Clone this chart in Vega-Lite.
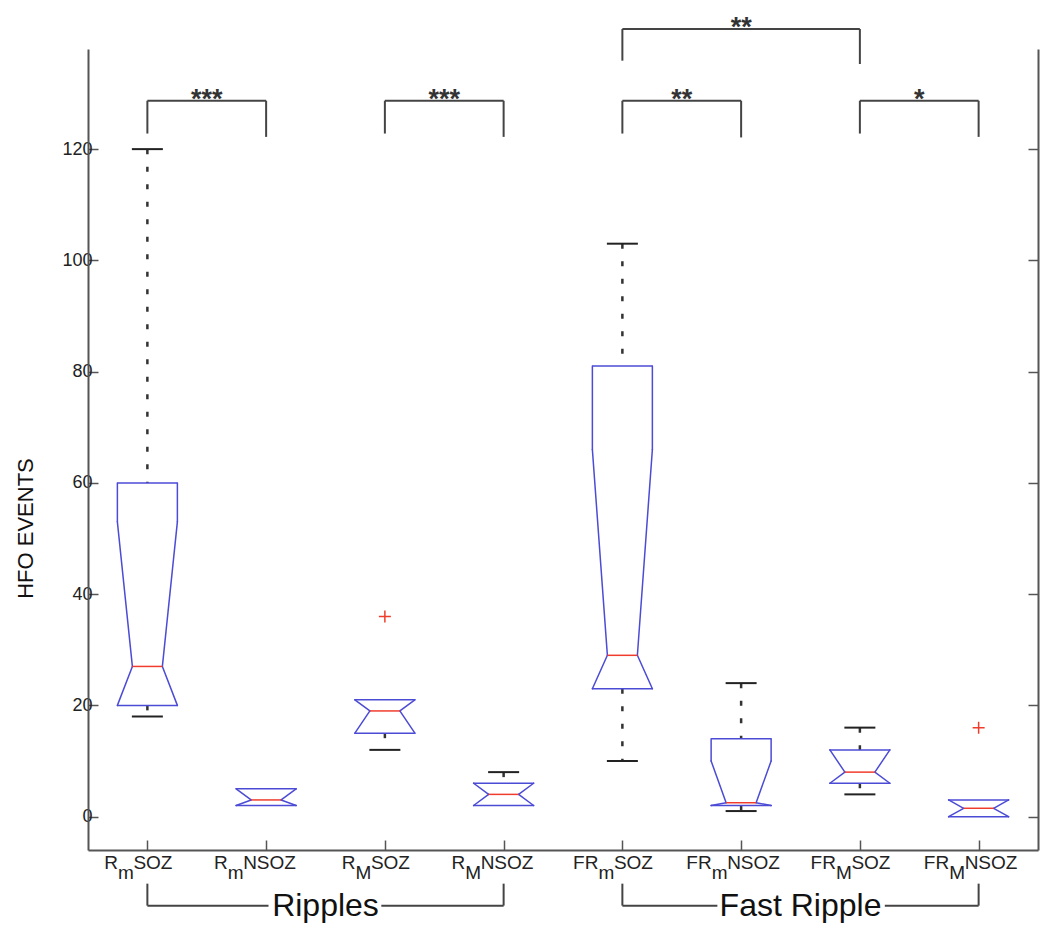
{
  "$schema": "https://vega.github.io/schema/vega-lite/v6.json",
  "width": 950,
  "height": 801,
  "autosize": {"type": "none"},
  "padding": {"left": 88, "top": 49, "right": 12, "bottom": 83},
  "background": "white",
  "config": {"view": {"stroke": null}, "font": "Liberation Sans", "text": {"font": "Liberation Sans"}},
  "datasets": {
    "boxes": [
      {"g": 1, "name": "RmSOZ", "wlo": 18, "q1": 20, "nlo": 20, "med": 27, "nhi": 53, "q3": 60, "whi": 120},
      {"g": 2, "name": "RmNSOZ", "wlo": 2, "q1": 2, "nlo": 2, "med": 3, "nhi": 5, "q3": 5, "whi": 5},
      {"g": 3, "name": "RMSOZ", "wlo": 12, "q1": 15, "nlo": 15, "med": 19, "nhi": 21, "q3": 21, "whi": 21},
      {"g": 4, "name": "RMNSOZ", "wlo": 2, "q1": 2, "nlo": 2, "med": 4, "nhi": 6, "q3": 6, "whi": 8},
      {"g": 5, "name": "FRmSOZ", "wlo": 10, "q1": 23, "nlo": 23, "med": 29, "nhi": 66, "q3": 81, "whi": 103},
      {"g": 6, "name": "FRmNSOZ", "wlo": 1, "q1": 2, "nlo": 2, "med": 2.5, "nhi": 10, "q3": 14, "whi": 24},
      {"g": 7, "name": "FRMSOZ", "wlo": 4, "q1": 6, "nlo": 6, "med": 8, "nhi": 12, "q3": 12, "whi": 16},
      {"g": 8, "name": "FRMNSOZ", "wlo": 0, "q1": 0, "nlo": 0, "med": 1.5, "nhi": 3, "q3": 3, "whi": 3}
    ],
    "outliers": [
      {"g": 3, "v": 36},
      {"g": 8, "v": 16}
    ],
    "sig": [
      {"a": 1, "b": 2, "mid": 1.5, "top": 128.7, "la": 122.8, "lb": 122.2, "stars": "***"},
      {"a": 3, "b": 4, "mid": 3.5, "top": 128.7, "la": 122.8, "lb": 122.2, "stars": "***"},
      {"a": 5, "b": 6, "mid": 5.5, "top": 128.7, "la": 122.8, "lb": 122.1, "stars": "**"},
      {"a": 7, "b": 8, "mid": 7.5, "top": 128.7, "la": 122.8, "lb": 122.2, "stars": "*"},
      {"a": 5, "b": 7, "mid": 6, "top": 141.6, "la": 135.9, "lb": 135.3, "stars": "**"}
    ],
    "groups": [
      {"label": "Ripples", "a": 1, "b": 4, "mid": 2.5, "ga": 2.02, "gb": 2.97, "leg": -12.05, "base": -16},
      {"label": "Fast Ripple", "a": 5, "b": 8, "mid": 6.5, "ga": 5.8, "gb": 7.21, "leg": -12.05, "base": -16}
    ],
    "xlabels": [
      {"g": 1, "pre": "R", "sub": "m", "suf": "SOZ"},
      {"g": 2, "pre": "R", "sub": "m", "suf": "NSOZ"},
      {"g": 3, "pre": "R", "sub": "M", "suf": "SOZ"},
      {"g": 4, "pre": "R", "sub": "M", "suf": "NSOZ"},
      {"g": 5, "pre": "FR", "sub": "m", "suf": "SOZ"},
      {"g": 6, "pre": "FR", "sub": "m", "suf": "NSOZ"},
      {"g": 7, "pre": "FR", "sub": "M", "suf": "SOZ"},
      {"g": 8, "pre": "FR", "sub": "M", "suf": "NSOZ"}
    ]
  },
  "resolve": {"axis": {"x": "independent", "y": "independent"}},
  "layer": [
    {
      "data": {"name": "boxes"},
      "mark": {"type": "rule", "color": "#333333", "strokeWidth": 2.5, "strokeDash": [5, 12.5]},
      "encoding": {
        "x": {"field": "g", "type": "quantitative", "scale": {"type": "linear", "domain": [0.5, 8.5], "nice": false, "zero": false}, "axis": null},
        "y": {"field": "whi", "type": "quantitative", "scale": {"type": "linear", "domain": [-6, 138], "nice": false, "zero": false}, "axis": null},
        "y2": {"field": "q3"}
      }
    },
    {
      "data": {"name": "boxes"},
      "mark": {"type": "rule", "color": "#333333", "strokeWidth": 2.5, "strokeDash": [5, 12.5]},
      "encoding": {
        "x": {"field": "g", "type": "quantitative", "scale": {"type": "linear", "domain": [0.5, 8.5], "nice": false, "zero": false}, "axis": null},
        "y": {"field": "q1", "type": "quantitative", "scale": {"type": "linear", "domain": [-6, 138], "nice": false, "zero": false}, "axis": null},
        "y2": {"field": "wlo"}
      }
    },
    {
      "data": {"name": "boxes"},
      "transform": [{"filter": "datum.whi > datum.q3"}],
      "mark": {"type": "tick", "orient": "horizontal", "size": 31, "thickness": 2, "color": "#222222", "opacity": 1},
      "encoding": {
        "x": {"field": "g", "type": "quantitative", "scale": {"type": "linear", "domain": [0.5, 8.5], "nice": false, "zero": false},
          "axis": {"orient": "bottom", "values": [1, 2, 3, 4, 5, 6, 7, 8], "labels": false, "title": null, "grid": false, "tickSize": -10, "tickWidth": 1.5, "tickColor": "#555555", "domainColor": "#555555", "domainWidth": 2}},
        "y": {"field": "whi", "type": "quantitative", "scale": {"type": "linear", "domain": [-6, 138], "nice": false, "zero": false},
          "axis": {"orient": "left", "values": [0, 20, 40, 60, 80, 100, 120], "grid": false, "tickSize": -10, "tickWidth": 1.5, "tickColor": "#555555", "domainColor": "#555555", "domainWidth": 2,
            "labelFontSize": 18, "labelColor": "#222222", "labelFont": "Liberation Sans", "labelPadding": 6,
            "title": "HFO EVENTS", "titleFont": "Liberation Sans", "titleFontSize": 22, "titleFontWeight": "normal", "titleColor": "#111111",
            "titleAngle": 270, "titleX": -63, "titleY": 479, "titleAlign": "center", "titleBaseline": "middle"}}
      }
    },
    {
      "data": {"name": "boxes"},
      "transform": [{"filter": "datum.wlo < datum.q1"}],
      "mark": {"type": "tick", "orient": "horizontal", "size": 31, "thickness": 2, "color": "#222222", "opacity": 1},
      "encoding": {
        "x": {"field": "g", "type": "quantitative", "scale": {"type": "linear", "domain": [0.5, 8.5], "nice": false, "zero": false}, "axis": null},
        "y": {"field": "wlo", "type": "quantitative", "scale": {"type": "linear", "domain": [-6, 138], "nice": false, "zero": false},
          "axis": {"orient": "right", "values": [0, 20, 40, 60, 80, 100, 120], "labels": false, "title": null, "grid": false, "tickSize": -10, "tickWidth": 1.5, "tickColor": "#555555", "domainColor": "#555555", "domainWidth": 2}}
      }
    },
    {
      "data": {"name": "boxes"},
      "mark": {"type": "rule", "color": "#4b4bd6", "strokeWidth": 1.5, "strokeCap": "round", "xOffset": -30},
      "encoding": {
        "x": {"field": "g", "type": "quantitative", "scale": {"type": "linear", "domain": [0.5, 8.5], "nice": false, "zero": false}, "axis": null},
        "y": {"field": "q1", "type": "quantitative", "scale": {"type": "linear", "domain": [-6, 138], "nice": false, "zero": false}, "axis": null},
        "y2": {"field": "nlo"}
      }
    },
    {
      "data": {"name": "boxes"},
      "mark": {"type": "rule", "color": "#4b4bd6", "strokeWidth": 1.5, "strokeCap": "round", "xOffset": -30, "x2Offset": -15},
      "encoding": {
        "x": {"field": "g", "type": "quantitative", "scale": {"type": "linear", "domain": [0.5, 8.5], "nice": false, "zero": false}, "axis": null},
        "x2": {"field": "g"},
        "y": {"field": "nlo", "type": "quantitative", "scale": {"type": "linear", "domain": [-6, 138], "nice": false, "zero": false}, "axis": null},
        "y2": {"field": "med"}
      }
    },
    {
      "data": {"name": "boxes"},
      "mark": {"type": "rule", "color": "#4b4bd6", "strokeWidth": 1.5, "strokeCap": "round", "xOffset": -15, "x2Offset": -30},
      "encoding": {
        "x": {"field": "g", "type": "quantitative", "scale": {"type": "linear", "domain": [0.5, 8.5], "nice": false, "zero": false}, "axis": null},
        "x2": {"field": "g"},
        "y": {"field": "med", "type": "quantitative", "scale": {"type": "linear", "domain": [-6, 138], "nice": false, "zero": false}, "axis": null},
        "y2": {"field": "nhi"}
      }
    },
    {
      "data": {"name": "boxes"},
      "mark": {"type": "rule", "color": "#4b4bd6", "strokeWidth": 1.5, "strokeCap": "round", "xOffset": -30},
      "encoding": {
        "x": {"field": "g", "type": "quantitative", "scale": {"type": "linear", "domain": [0.5, 8.5], "nice": false, "zero": false}, "axis": null},
        "y": {"field": "nhi", "type": "quantitative", "scale": {"type": "linear", "domain": [-6, 138], "nice": false, "zero": false}, "axis": null},
        "y2": {"field": "q3"}
      }
    },
    {
      "data": {"name": "boxes"},
      "mark": {"type": "rule", "color": "#4b4bd6", "strokeWidth": 1.5, "strokeCap": "round", "xOffset": 30},
      "encoding": {
        "x": {"field": "g", "type": "quantitative", "scale": {"type": "linear", "domain": [0.5, 8.5], "nice": false, "zero": false}, "axis": null},
        "y": {"field": "q1", "type": "quantitative", "scale": {"type": "linear", "domain": [-6, 138], "nice": false, "zero": false}, "axis": null},
        "y2": {"field": "nlo"}
      }
    },
    {
      "data": {"name": "boxes"},
      "mark": {"type": "rule", "color": "#4b4bd6", "strokeWidth": 1.5, "strokeCap": "round", "xOffset": 30, "x2Offset": 15},
      "encoding": {
        "x": {"field": "g", "type": "quantitative", "scale": {"type": "linear", "domain": [0.5, 8.5], "nice": false, "zero": false}, "axis": null},
        "x2": {"field": "g"},
        "y": {"field": "nlo", "type": "quantitative", "scale": {"type": "linear", "domain": [-6, 138], "nice": false, "zero": false}, "axis": null},
        "y2": {"field": "med"}
      }
    },
    {
      "data": {"name": "boxes"},
      "mark": {"type": "rule", "color": "#4b4bd6", "strokeWidth": 1.5, "strokeCap": "round", "xOffset": 15, "x2Offset": 30},
      "encoding": {
        "x": {"field": "g", "type": "quantitative", "scale": {"type": "linear", "domain": [0.5, 8.5], "nice": false, "zero": false}, "axis": null},
        "x2": {"field": "g"},
        "y": {"field": "med", "type": "quantitative", "scale": {"type": "linear", "domain": [-6, 138], "nice": false, "zero": false}, "axis": null},
        "y2": {"field": "nhi"}
      }
    },
    {
      "data": {"name": "boxes"},
      "mark": {"type": "rule", "color": "#4b4bd6", "strokeWidth": 1.5, "strokeCap": "round", "xOffset": 30},
      "encoding": {
        "x": {"field": "g", "type": "quantitative", "scale": {"type": "linear", "domain": [0.5, 8.5], "nice": false, "zero": false}, "axis": null},
        "y": {"field": "nhi", "type": "quantitative", "scale": {"type": "linear", "domain": [-6, 138], "nice": false, "zero": false}, "axis": null},
        "y2": {"field": "q3"}
      }
    },
    {
      "data": {"name": "boxes"},
      "mark": {"type": "tick", "orient": "horizontal", "size": 60, "thickness": 1.5, "color": "#4b4bd6", "opacity": 1},
      "encoding": {
        "x": {"field": "g", "type": "quantitative", "scale": {"type": "linear", "domain": [0.5, 8.5], "nice": false, "zero": false}, "axis": null},
        "y": {"field": "q3", "type": "quantitative", "scale": {"type": "linear", "domain": [-6, 138], "nice": false, "zero": false}, "axis": null}
      }
    },
    {
      "data": {"name": "boxes"},
      "mark": {"type": "tick", "orient": "horizontal", "size": 60, "thickness": 1.5, "color": "#4b4bd6", "opacity": 1},
      "encoding": {
        "x": {"field": "g", "type": "quantitative", "scale": {"type": "linear", "domain": [0.5, 8.5], "nice": false, "zero": false}, "axis": null},
        "y": {"field": "q1", "type": "quantitative", "scale": {"type": "linear", "domain": [-6, 138], "nice": false, "zero": false}, "axis": null}
      }
    },
    {
      "data": {"name": "boxes"},
      "mark": {"type": "tick", "orient": "horizontal", "size": 30, "thickness": 1.5, "color": "#f03c2d", "opacity": 1},
      "encoding": {
        "x": {"field": "g", "type": "quantitative", "scale": {"type": "linear", "domain": [0.5, 8.5], "nice": false, "zero": false}, "axis": null},
        "y": {"field": "med", "type": "quantitative", "scale": {"type": "linear", "domain": [-6, 138], "nice": false, "zero": false}, "axis": null}
      }
    },
    {
      "data": {"name": "outliers"},
      "mark": {"type": "point", "shape": "M-1,0H1M0,-1V1", "size": 144, "filled": false, "color": "#f03c2d", "strokeWidth": 1.5, "opacity": 1},
      "encoding": {
        "x": {"field": "g", "type": "quantitative", "scale": {"type": "linear", "domain": [0.5, 8.5], "nice": false, "zero": false}, "axis": null},
        "y": {"field": "v", "type": "quantitative", "scale": {"type": "linear", "domain": [-6, 138], "nice": false, "zero": false}, "axis": null}
      }
    },
    {
      "data": {"name": "sig"},
      "mark": {"type": "rule", "color": "#444444", "strokeWidth": 2},
      "encoding": {
        "x": {"field": "a", "type": "quantitative", "scale": {"type": "linear", "domain": [0.5, 8.5], "nice": false, "zero": false}, "axis": null},
        "x2": {"field": "b"},
        "y": {"field": "top", "type": "quantitative", "scale": {"type": "linear", "domain": [-6, 138], "nice": false, "zero": false}, "axis": null}
      }
    },
    {
      "data": {"name": "sig"},
      "mark": {"type": "rule", "color": "#444444", "strokeWidth": 2},
      "encoding": {
        "x": {"field": "a", "type": "quantitative", "scale": {"type": "linear", "domain": [0.5, 8.5], "nice": false, "zero": false}, "axis": null},
        "y": {"field": "la", "type": "quantitative", "scale": {"type": "linear", "domain": [-6, 138], "nice": false, "zero": false}, "axis": null},
        "y2": {"field": "top"}
      }
    },
    {
      "data": {"name": "sig"},
      "mark": {"type": "rule", "color": "#444444", "strokeWidth": 2},
      "encoding": {
        "x": {"field": "b", "type": "quantitative", "scale": {"type": "linear", "domain": [0.5, 8.5], "nice": false, "zero": false}, "axis": null},
        "y": {"field": "lb", "type": "quantitative", "scale": {"type": "linear", "domain": [-6, 138], "nice": false, "zero": false}, "axis": null},
        "y2": {"field": "top"}
      }
    },
    {
      "data": {"name": "sig"},
      "mark": {"type": "text", "fontSize": 27, "fontWeight": "bold", "color": "#333333", "align": "center", "baseline": "alphabetic", "dy": 7},
      "encoding": {
        "x": {"field": "mid", "type": "quantitative", "scale": {"type": "linear", "domain": [0.5, 8.5], "nice": false, "zero": false}, "axis": null},
        "y": {"field": "top", "type": "quantitative", "scale": {"type": "linear", "domain": [-6, 138], "nice": false, "zero": false}, "axis": null},
        "text": {"field": "stars"}
      }
    },
    {
      "data": {"name": "groups"},
      "mark": {"type": "rule", "color": "#444444", "strokeWidth": 2},
      "encoding": {
        "x": {"field": "a", "type": "quantitative", "scale": {"type": "linear", "domain": [0.5, 8.5], "nice": false, "zero": false}, "axis": null},
        "y": {"field": "leg", "type": "quantitative", "scale": {"type": "linear", "domain": [-6, 138], "nice": false, "zero": false}, "axis": null},
        "y2": {"field": "base"}
      }
    },
    {
      "data": {"name": "groups"},
      "mark": {"type": "rule", "color": "#444444", "strokeWidth": 2},
      "encoding": {
        "x": {"field": "b", "type": "quantitative", "scale": {"type": "linear", "domain": [0.5, 8.5], "nice": false, "zero": false}, "axis": null},
        "y": {"field": "leg", "type": "quantitative", "scale": {"type": "linear", "domain": [-6, 138], "nice": false, "zero": false}, "axis": null},
        "y2": {"field": "base"}
      }
    },
    {
      "data": {"name": "groups"},
      "mark": {"type": "rule", "color": "#444444", "strokeWidth": 2},
      "encoding": {
        "x": {"field": "a", "type": "quantitative", "scale": {"type": "linear", "domain": [0.5, 8.5], "nice": false, "zero": false}, "axis": null},
        "x2": {"field": "ga"},
        "y": {"field": "base", "type": "quantitative", "scale": {"type": "linear", "domain": [-6, 138], "nice": false, "zero": false}, "axis": null}
      }
    },
    {
      "data": {"name": "groups"},
      "mark": {"type": "rule", "color": "#444444", "strokeWidth": 2},
      "encoding": {
        "x": {"field": "gb", "type": "quantitative", "scale": {"type": "linear", "domain": [0.5, 8.5], "nice": false, "zero": false}, "axis": null},
        "x2": {"field": "b"},
        "y": {"field": "base", "type": "quantitative", "scale": {"type": "linear", "domain": [-6, 138], "nice": false, "zero": false}, "axis": null}
      }
    },
    {
      "data": {"name": "groups"},
      "mark": {"type": "text", "fontSize": 32, "color": "#111111", "align": "center", "baseline": "middle"},
      "encoding": {
        "x": {"field": "mid", "type": "quantitative", "scale": {"type": "linear", "domain": [0.5, 8.5], "nice": false, "zero": false}, "axis": null},
        "y": {"field": "base", "type": "quantitative", "scale": {"type": "linear", "domain": [-6, 138], "nice": false, "zero": false}, "axis": null},
        "text": {"field": "label"}
      }
    },
    {
      "data": {"name": "xlabels"},
      "transform": [{"filter": {"field": "g", "oneOf": [1, 3, 6, 8]}}],
      "mark": {"type": "text", "fontSize": 19, "color": "#222222", "align": "right", "baseline": "alphabetic", "dx": -29.5},
      "encoding": {
        "x": {"field": "g", "type": "quantitative", "scale": {"type": "linear", "domain": [0.5, 8.5], "nice": false, "zero": false}, "axis": null},
        "y": {"datum": -9.35, "type": "quantitative", "scale": {"type": "linear", "domain": [-6, 138], "nice": false, "zero": false}, "axis": null},
        "text": {"field": "pre"}
      }
    },
    {
      "data": {"name": "xlabels"},
      "transform": [{"filter": {"field": "g", "oneOf": [1, 3, 6, 8]}}],
      "mark": {"type": "text", "fontSize": 19, "color": "#222222", "align": "left", "baseline": "alphabetic", "dx": -29.5, "dy": 10},
      "encoding": {
        "x": {"field": "g", "type": "quantitative", "scale": {"type": "linear", "domain": [0.5, 8.5], "nice": false, "zero": false}, "axis": null},
        "y": {"datum": -9.35, "type": "quantitative", "scale": {"type": "linear", "domain": [-6, 138], "nice": false, "zero": false}, "axis": null},
        "text": {"field": "sub"}
      }
    },
    {
      "data": {"name": "xlabels"},
      "transform": [{"filter": {"field": "g", "oneOf": [1, 3, 6, 8]}}],
      "mark": {"type": "text", "fontSize": 19, "color": "#222222", "align": "left", "baseline": "alphabetic", "dx": -14},
      "encoding": {
        "x": {"field": "g", "type": "quantitative", "scale": {"type": "linear", "domain": [0.5, 8.5], "nice": false, "zero": false}, "axis": null},
        "y": {"datum": -9.35, "type": "quantitative", "scale": {"type": "linear", "domain": [-6, 138], "nice": false, "zero": false}, "axis": null},
        "text": {"field": "suf"}
      }
    },
    {
      "data": {"name": "xlabels"},
      "transform": [{"filter": {"field": "g", "oneOf": [2, 4]}}],
      "mark": {"type": "text", "fontSize": 19, "color": "#222222", "align": "right", "baseline": "alphabetic", "dx": -38.5},
      "encoding": {
        "x": {"field": "g", "type": "quantitative", "scale": {"type": "linear", "domain": [0.5, 8.5], "nice": false, "zero": false}, "axis": null},
        "y": {"datum": -9.35, "type": "quantitative", "scale": {"type": "linear", "domain": [-6, 138], "nice": false, "zero": false}, "axis": null},
        "text": {"field": "pre"}
      }
    },
    {
      "data": {"name": "xlabels"},
      "transform": [{"filter": {"field": "g", "oneOf": [2, 4]}}],
      "mark": {"type": "text", "fontSize": 19, "color": "#222222", "align": "left", "baseline": "alphabetic", "dx": -38.5, "dy": 10},
      "encoding": {
        "x": {"field": "g", "type": "quantitative", "scale": {"type": "linear", "domain": [0.5, 8.5], "nice": false, "zero": false}, "axis": null},
        "y": {"datum": -9.35, "type": "quantitative", "scale": {"type": "linear", "domain": [-6, 138], "nice": false, "zero": false}, "axis": null},
        "text": {"field": "sub"}
      }
    },
    {
      "data": {"name": "xlabels"},
      "transform": [{"filter": {"field": "g", "oneOf": [2, 4]}}],
      "mark": {"type": "text", "fontSize": 19, "color": "#222222", "align": "left", "baseline": "alphabetic", "dx": -23},
      "encoding": {
        "x": {"field": "g", "type": "quantitative", "scale": {"type": "linear", "domain": [0.5, 8.5], "nice": false, "zero": false}, "axis": null},
        "y": {"datum": -9.35, "type": "quantitative", "scale": {"type": "linear", "domain": [-6, 138], "nice": false, "zero": false}, "axis": null},
        "text": {"field": "suf"}
      }
    },
    {
      "data": {"name": "xlabels"},
      "transform": [{"filter": {"field": "g", "oneOf": [5, 7]}}],
      "mark": {"type": "text", "fontSize": 19, "color": "#222222", "align": "right", "baseline": "alphabetic", "dx": -24},
      "encoding": {
        "x": {"field": "g", "type": "quantitative", "scale": {"type": "linear", "domain": [0.5, 8.5], "nice": false, "zero": false}, "axis": null},
        "y": {"datum": -9.35, "type": "quantitative", "scale": {"type": "linear", "domain": [-6, 138], "nice": false, "zero": false}, "axis": null},
        "text": {"field": "pre"}
      }
    },
    {
      "data": {"name": "xlabels"},
      "transform": [{"filter": {"field": "g", "oneOf": [5, 7]}}],
      "mark": {"type": "text", "fontSize": 19, "color": "#222222", "align": "left", "baseline": "alphabetic", "dx": -24, "dy": 10},
      "encoding": {
        "x": {"field": "g", "type": "quantitative", "scale": {"type": "linear", "domain": [0.5, 8.5], "nice": false, "zero": false}, "axis": null},
        "y": {"datum": -9.35, "type": "quantitative", "scale": {"type": "linear", "domain": [-6, 138], "nice": false, "zero": false}, "axis": null},
        "text": {"field": "sub"}
      }
    },
    {
      "data": {"name": "xlabels"},
      "transform": [{"filter": {"field": "g", "oneOf": [5, 7]}}],
      "mark": {"type": "text", "fontSize": 19, "color": "#222222", "align": "left", "baseline": "alphabetic", "dx": -8.5},
      "encoding": {
        "x": {"field": "g", "type": "quantitative", "scale": {"type": "linear", "domain": [0.5, 8.5], "nice": false, "zero": false}, "axis": null},
        "y": {"datum": -9.35, "type": "quantitative", "scale": {"type": "linear", "domain": [-6, 138], "nice": false, "zero": false}, "axis": null},
        "text": {"field": "suf"}
      }
    }
  ]
}
